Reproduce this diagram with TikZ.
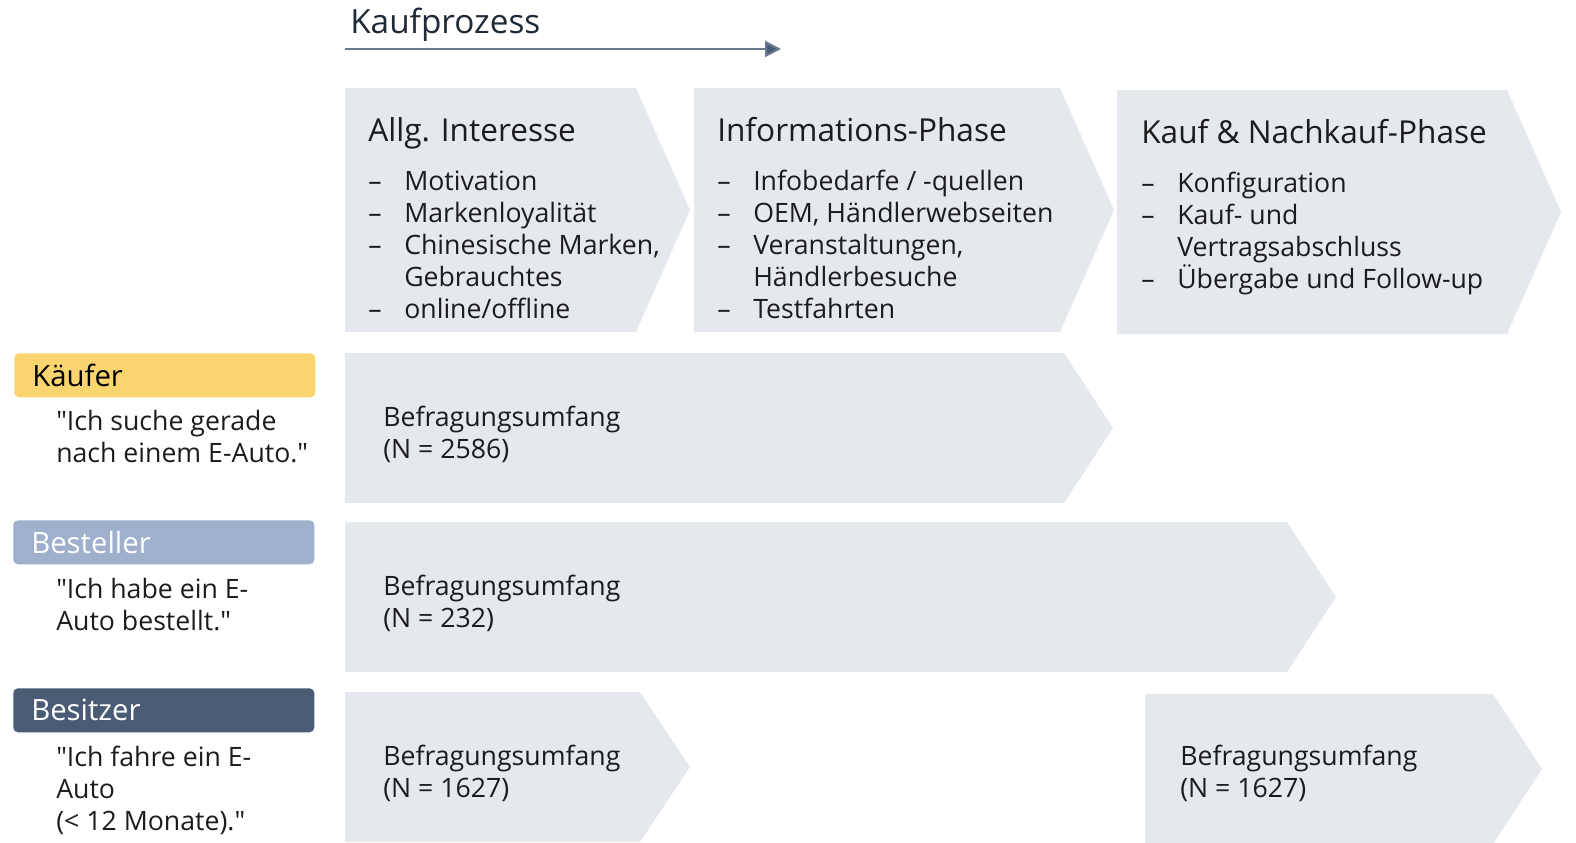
\documentclass[tikz,border=0pt]{standalone}
\usepackage{fontspec}
\setmainfont{Open Sans}[Ligatures=TeXOff]
\usetikzlibrary{arrows.meta}
\definecolor{chev}{HTML}{E5E8ED}
\definecolor{kaeufer}{HTML}{F9D46F}
\definecolor{besteller}{HTML}{9EB0CC}
\definecolor{besitzer}{HTML}{4A5B74}
\definecolor{txt}{HTML}{1C1C1C}
\definecolor{ttlc}{HTML}{1F2A37}
\definecolor{arrc}{HTML}{6B7A8F}
\newcommand{\myDash}{\makebox[27pt][l]{–}}
\newcommand{\myInd}{\hspace*{27pt}}
\begin{document}
\begin{tikzpicture}[x=0.75pt,y=-0.75pt,
  chevfill/.style={fill=chev},
  ttl/.style={font=\fontsize{25pt}{30pt}\selectfont, text=ttlc, inner sep=0pt},
  head/.style={font=\fontsize{23.7pt}{28pt}\selectfont, text=txt, inner sep=0pt},
  body/.style={font=\fontsize{20pt}{24pt}\selectfont, text=txt, inner sep=0pt, align=left},
  lab/.style={rounded corners=3.5pt, minimum height=33pt, text width=198.75pt, inner xsep=13.5pt, inner ysep=0pt, align=left, font=\fontsize{22pt}{26pt}\selectfont, anchor=north west},
  procarrow/.style={draw=arrc, line width=1.5pt, -{Triangle[length=12pt,width=12pt,fill=besitzer]}}
]
\useasboundingbox (0,0) rectangle (1576,842);
% process arrow
\node[ttl, anchor=base west] (kp) at (350,34) {Kaufprozess};
\coordinate (a0) at (345,49);
\coordinate (a1) at (781,49);
\draw[procarrow] (a0) -- (a1);
% top chevrons
\fill[chevfill] (345,88) -- (636,88) -- (690,210) -- (636,332) -- (345,332) -- cycle;
\fill[chevfill] (694,88) -- (1060,88) -- (1114,210) -- (1060,332) -- (694,332) -- cycle;
\fill[chevfill] (1117,90) -- (1507,90) -- (1561,212) -- (1507,334) -- (1117,334) -- cycle;
\node[head, anchor=base west] (h1) at (368,141) {Allg. Interesse};
\node[head, anchor=base west] (h2) at (717,141) {Informations-Phase};
\node[head, anchor=base west] (h3) at (1141,143) {Kauf \& Nachkauf-Phase};
% base anchor of a multi-line node = baseline of its last line
\node[body, anchor=base west] (l1) at (368,318) {\myDash Motivation\\ \myDash Markenloyalität\\ \myDash Chinesische Marken,\\ \myInd Gebrauchtes\\ \myDash online/offline};
\node[body, anchor=base west] (l2) at (717,318) {\myDash Infobedarfe / -quellen\\ \myDash OEM, Händlerwebseiten\\ \myDash Veranstaltungen,\\ \myInd Händlerbesuche\\ \myDash Testfahrten};
\node[body, anchor=base west] (l3) at (1141,288) {\myDash Konfiguration\\ \myDash Kauf- und\\ \myInd Vertragsabschluss\\ \myDash Übergabe und Follow-up};
% rows
\fill[chevfill] (345,353) -- (1064,353) -- (1113,428) -- (1064,503) -- (345,503) -- cycle;
\fill[chevfill] (345,522) -- (1287,522) -- (1336,597) -- (1287,672) -- (345,672) -- cycle;
\fill[chevfill] (345,692) -- (640,692) -- (690,767) -- (640,842) -- (345,842) -- cycle;
\fill[chevfill] (1145,694) -- (1493,694) -- (1542,769) -- (1493,844) -- (1145,844) -- cycle;
\node[body, anchor=base west] (b1) at (383,458) {Befragungsumfang\\(N = 2586)};
\node[body, anchor=base west] (b2) at (383,627) {Befragungsumfang\\(N = 232)};
\node[body, anchor=base west] (b3) at (383,797) {Befragungsumfang\\(N = 1627)};
\node[body, anchor=base west] (b4) at (1180,797) {Befragungsumfang\\(N = 1627)};
% labels
\node[lab, fill=kaeufer, text=black] (k) at (14,353) {Käufer};
\node[lab, fill=besteller, text=white] (be) at (13,520) {Besteller};
\node[lab, fill=besitzer, text=white] (bs) at (13,688) {Besitzer};
\node[body, anchor=base west] (q1) at (56,462) {"Ich suche gerade\\nach einem E-Auto."};
\node[body, anchor=base west] (q2) at (56,630) {"Ich habe ein E-\\Auto bestellt."};
\node[body, anchor=base west] (q3) at (56,830) {"Ich fahre ein E-\\Auto\\(< 12 Monate)."};
\end{tikzpicture}
\end{document}
